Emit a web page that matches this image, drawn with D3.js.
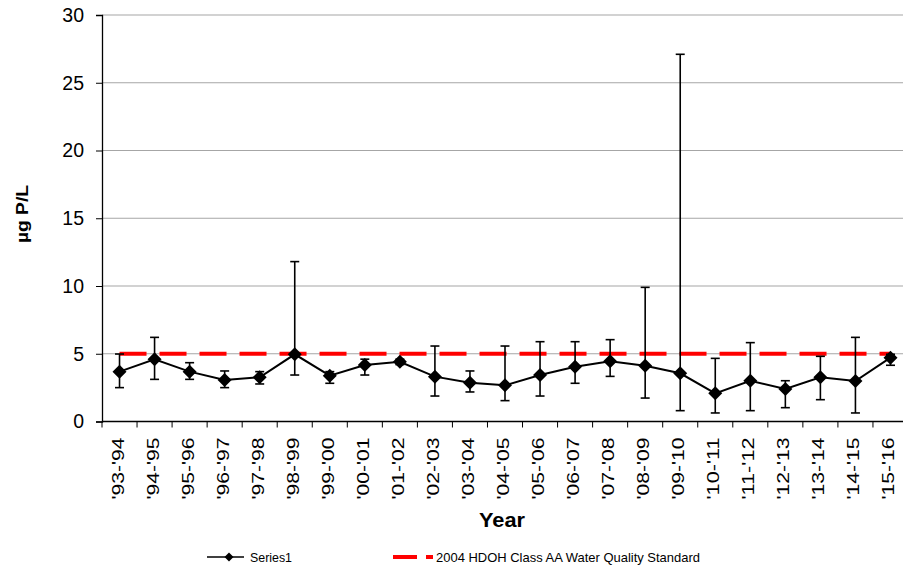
<!DOCTYPE html>
<html>
<head>
<meta charset="utf-8">
<script src="https://cdn.jsdelivr.net/npm/d3@7"></script>
<style>
  body { margin: 0; background: #fff; }
  svg { display: block; font-family: "Liberation Sans", Arial, sans-serif; }
</style>
</head>
<body>
<div id="chart"></div>
<script>
// categories (water years)
const years = ["'93-'94", "'94-'95", "'95-'96", "'96-'97", "'97-'98", "'98-'99", "'99-'00", "'00-'01",
  "'01-'02", "'02-'03", "'03-'04", "'04-'05", "'05-'06", "'06-'07", "'07-'08", "'08-'09", "'09-'10",
  "'10-'11", "'11-'12", "'12-'13", "'13-'14", "'14-'15", "'15-'16"]
// Series1 values
const means = [3.68, 4.59, 3.68, 3.06, 3.26, 4.96, 3.38, 4.17, 4.41, 3.31, 2.86, 2.67, 3.43, 4.04,
  4.44, 4.12, 3.56, 2.08, 3.01, 2.40, 3.26, 2.99, 4.71]
// error bar tops and bottoms
const upper = [4.98, 6.21, 4.34, 3.73, 3.68, 11.8, 3.68, 4.6, 4.6, 5.57, 3.73, 5.57, 5.89, 5.89,
  6.04, 9.9, 27.1, 4.66, 5.82, 3.01, 4.81, 6.21, 4.96]
const lower = [2.5, 3.11, 3.11, 2.5, 2.77, 3.43, 2.82, 3.43, 4.2, 1.88, 2.18, 1.54, 1.88, 2.82,
  3.33, 1.73, 0.8, 0.63, 0.8, 1.02, 1.61, 0.63, 4.15]
const standard = 5
const yTicks = [0, 5, 10, 15, 20, 25, 30]

const width = 903, height = 570
const margin = { top: 15, right: -5, bottom: 148.5, left: 102 }
const innerWidth = width - margin.left - margin.right
const innerHeight = height - margin.top - margin.bottom

const svg = d3.select('#chart').append('svg')
  .attr('width', width).attr('height', height)

const x = d3.scaleBand().domain(years).range([0, innerWidth])
const y = d3.scaleLinear().domain([0, 30]).range([innerHeight, 0])

const g = svg.append('g').attr('transform', `translate(${margin.left},${margin.top})`)

// gridlines
g.selectAll('.grid').data(yTicks.filter(d => d > 0)).enter().append('line')
  .attr('x1', 0).attr('x2', innerWidth)
  .attr('y1', d => y(d)).attr('y2', d => y(d))
  .attr('stroke', '#a6a6a6').attr('stroke-width', 1.2)

// y axis
const yAxis = g.append('g').call(d3.axisLeft(y).tickValues(yTicks).tickSize(6).tickPadding(12))
yAxis.select('.domain').attr('stroke', '#000').attr('stroke-width', 1.3)
yAxis.selectAll('.tick line').attr('stroke', '#000')
yAxis.selectAll('text').attr('font-size', 19.5).attr('fill', '#000')
  .attr('font-family', '"Liberation Sans", Arial, sans-serif')

// x axis, ticks on the band edges
const xAxis = g.append('g').attr('transform', `translate(0,${innerHeight})`)
xAxis.append('line').attr('x1', 0).attr('x2', innerWidth).attr('stroke', '#000').attr('stroke-width', 1.3)
xAxis.selectAll('.edge').data(years).enter().append('line')
  .attr('x1', d => x(d)).attr('x2', d => x(d)).attr('y1', 0).attr('y2', 6)
  .attr('stroke', '#000')
xAxis.selectAll('.lbl').data(years).enter().append('text')
  .attr('x', d => x(d) + x.bandwidth() / 2 + 4)
  .attr('y', 16)
  .attr('transform', d => `rotate(-90,${x(d) + x.bandwidth() / 2 + 4},16)`)
  .attr('text-anchor', 'end')
  .attr('font-size', 16)
  .attr('textLength', 62).attr('lengthAdjust', 'spacingAndGlyphs')
  .text(d => d)

// standard line
g.append('line')
  .attr('x1', x(years[0]) + x.bandwidth() / 2)
  .attr('x2', x(years[years.length - 1]) + x.bandwidth() / 2)
  .attr('y1', y(standard)).attr('y2', y(standard))
  .attr('stroke', '#ff0000').attr('stroke-width', 4)
  .attr('stroke-dasharray', '27 13')

const cx = (d, i) => x(years[i]) + x.bandwidth() / 2

// error bars
const err = g.append('g').attr('stroke', '#000').attr('stroke-width', 1.6)
years.forEach((d, i) => {
  err.append('line').attr('x1', cx(d, i)).attr('x2', cx(d, i)).attr('y1', y(upper[i])).attr('y2', y(lower[i]))
  err.append('line').attr('x1', cx(d, i) - 4.5).attr('x2', cx(d, i) + 4.5).attr('y1', y(upper[i])).attr('y2', y(upper[i]))
  err.append('line').attr('x1', cx(d, i) - 4.5).attr('x2', cx(d, i) + 4.5).attr('y1', y(lower[i])).attr('y2', y(lower[i]))
})

// series line
const line = d3.line().x((d, i) => cx(d, i)).y(d => y(d))
g.append('path').datum(means).attr('d', line)
  .attr('fill', 'none').attr('stroke', '#000').attr('stroke-width', 2)

const diamond = 'M0,-7L7,0L0,7L-7,0Z'
g.selectAll('.pt').data(means).enter().append('path')
  .attr('d', diamond)
  .attr('transform', (d, i) => `translate(${cx(d, i)},${y(d)})`)
  .attr('fill', '#000')

// axis titles
svg.append('text').attr('x', 502).attr('y', 527).attr('text-anchor', 'middle')
  .attr('font-size', 20).attr('font-weight', 'bold')
  .attr('textLength', 46).attr('lengthAdjust', 'spacingAndGlyphs').text('Year')
svg.append('text').attr('x', 27.5).attr('y', 214).attr('transform', 'rotate(-90,27.5,214)')
  .attr('text-anchor', 'middle')
  .attr('font-size', 17).attr('font-weight', 'bold')
  .attr('textLength', 58).attr('lengthAdjust', 'spacingAndGlyphs').text('µg P/L')

// legend
const leg = svg.append('g').attr('font-size', 13)
leg.append('line').attr('x1', 207).attr('x2', 244).attr('y1', 557).attr('y2', 557)
  .attr('stroke', '#000').attr('stroke-width', 1.6)
leg.append('path').attr('d', 'M0,-4.5L4.5,0L0,4.5L-4.5,0Z').attr('transform', 'translate(229,557)')
leg.append('text').attr('x', 250).attr('y', 561.5)
  .attr('textLength', 42).attr('lengthAdjust', 'spacingAndGlyphs').text('Series1')
leg.append('line').attr('x1', 393).attr('x2', 433).attr('y1', 557).attr('y2', 557)
  .attr('stroke', '#ff0000').attr('stroke-width', 4).attr('stroke-dasharray', '24 9')
leg.append('text').attr('x', 436).attr('y', 561.5)
  .attr('textLength', 264).attr('lengthAdjust', 'spacingAndGlyphs')
  .text('2004 HDOH Class AA Water Quality Standard')
</script>
</body>
</html>
